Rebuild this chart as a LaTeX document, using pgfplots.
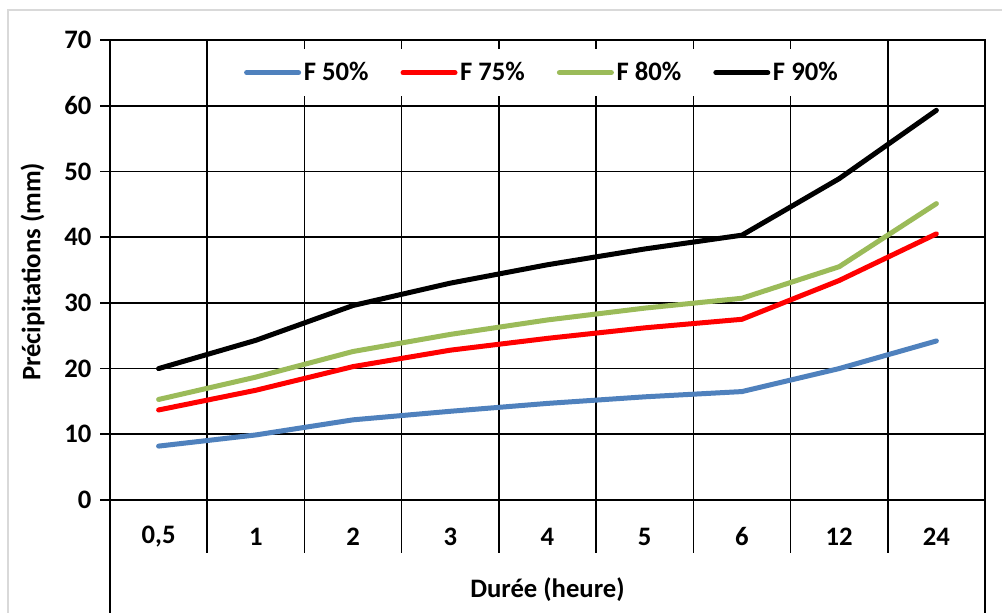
\documentclass[border=0pt]{standalone}
\usepackage{pgfplots}
\pgfplotsset{compat=1.18}
\usepackage{fontspec}
\setmainfont{Carlito}
\definecolor{cBlue}{HTML}{4F81BD}
\definecolor{cGreen}{HTML}{9BBB59}
\newcommand{\chartfont}{\bfseries\fontsize{20}{24}\selectfont}

% Précipitations (mm) par durée; colonne x = position de la catégorie
\pgfplotstableread{
x    f50   f75   f80   f90
0.5  8.2   13.7  15.3  20.0
1.5  9.9   16.7  18.7  24.3
2.5  12.2  20.3  22.6  29.6
3.5  13.5  22.8  25.2  33.0
4.5  14.7  24.6  27.4  35.8
5.5  15.7  26.2  29.2  38.2
6.5  16.5  27.5  30.7  40.3
7.5  20.0  33.4  35.5  48.9
8.5  24.2  40.5  45.1  59.3
}\data

\begin{document}
\begin{tikzpicture}
\useasboundingbox (0,0) rectangle (751.5pt,459.75pt);
\fill[white] (0,0) rectangle (751.5pt,459.75pt);
\draw[black!15, line width=1pt] (6pt,-5pt) rectangle (760pt,452.25pt);
\begin{axis}[
  at={(82.5pt,84.75pt)}, anchor=south west,
  scale only axis, width=656.25pt, height=345pt,
  xmin=0, xmax=9, ymin=0, ymax=70,
  xtick={0.5,1.5,...,8.5},
  xticklabels={{0,5},1,2,3,4,5,6,12,24},
  ytick={0,10,...,70},
  ymajorgrids, grid style={black, line width=1.2pt},
  axis line style={black, line width=1.2pt},
  tick align=outside, xtick pos=bottom, ytick pos=left,
  major tick length=7.5pt,
  xtick style={draw=none},
  ytick style={black, line width=1.2pt},
  clip=false,
  /pgf/number format/assume math mode=true,
  tick label style={font=\chartfont},
  label style={font=\chartfont},
  xticklabel style={anchor=center, yshift=-20pt},
  yticklabel style={anchor=east, xshift=-3pt},
  xlabel={Durée (heure)},
  ylabel={Précipitations (mm)},
  xlabel style={at={(rel axis cs:0.5,0)}, anchor=center, yshift=-67.5pt},
  ylabel style={at={(rel axis cs:0,0.496)}, anchor=center, yshift=58pt},
  legend columns=4,
  legend style={draw=none, fill=white, at={(0.494,0.929)}, anchor=center,
    font=\chartfont, inner xsep=14pt, inner ysep=8pt,
    /tikz/every even column/.append style={column sep=22pt}},
  legend cell align=left,
  legend image code/.code={\draw[#1] (0pt,0pt) -- (39pt,0pt);},
  every axis plot/.append style={line width=3.75pt, line join=round, line cap=round},
]
% séparations verticales entre catégories
\pgfplotsinvokeforeach{1,...,8}{
  \draw[black, line width=1.2pt] (axis cs:#1,70) -- ([yshift=-39.75pt]axis cs:#1,0);
}
\draw[black, line width=1.2pt] (axis cs:0,0) -- ++(0,-84.75pt);
\draw[black, line width=1.2pt] (axis cs:9,0) -- ++(0,-84.75pt);

\addplot[cBlue] table[x=x, y=f50] {\data};
\addplot[red] table[x=x, y=f75] {\data};
\addplot[cGreen] table[x=x, y=f80] {\data};
\addplot[black] table[x=x, y=f90] {\data};
\legend{F 50\%, F 75\%, F 80\%, F 90\%}
\end{axis}
\end{tikzpicture}
\end{document}
